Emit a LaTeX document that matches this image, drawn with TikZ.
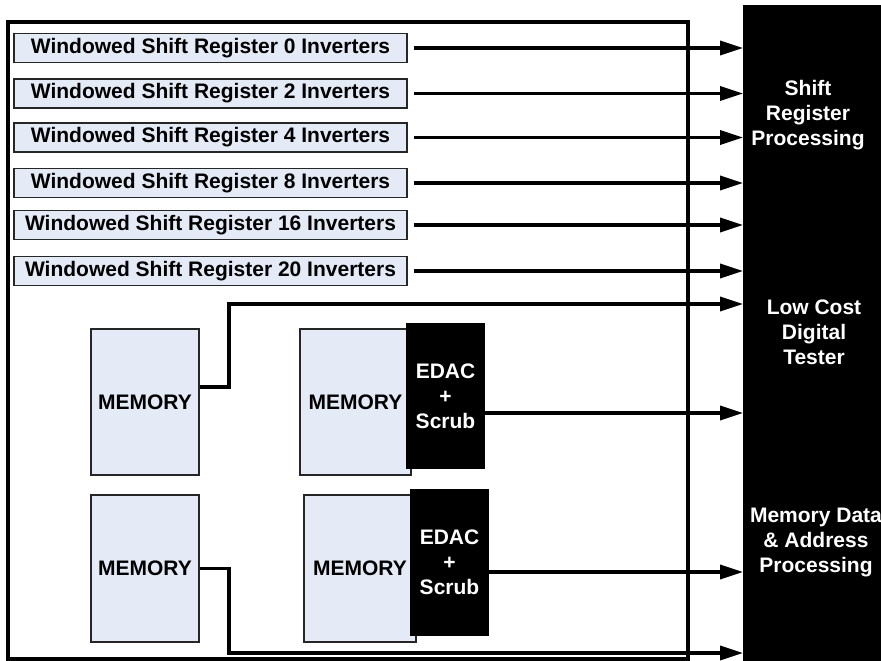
\documentclass[tikz,border=0pt]{standalone}
\usepackage{fontspec}
\setmainfont{Liberation Sans}
\usetikzlibrary{arrows.meta}
\definecolor{boxfill}{HTML}{E4EAF6}
\begin{document}
\begin{tikzpicture}[x=1pt,y=-1pt,
  every node/.style={font=\fontsize{21}{25}\selectfont\bfseries, inner sep=0pt},
  reg/.style={draw=black!85, line width=1.6pt, fill=boxfill, minimum width=393pt, minimum height=29pt},
  mem/.style={draw=black!85, line width=1.6pt, fill=boxfill, minimum height=146pt},
  edac/.style={fill=black, text=white, minimum width=79pt, minimum height=146pt, align=center},
  proclabel/.style={text=white, align=center},
  conn/.style={line width=3.5pt, -{Triangle[length=23pt,width=14pt]}},
  frame/.style={line width=3.5pt}]
\useasboundingbox (0,0) rectangle (881,661);

% black processing block
\node[fill=black, minimum width=138pt, minimum height=656pt, anchor=north west] (tester) at (743,5) {};
\node[proclabel] (tsr) at (808,115) {Shift\\Register\\Processing};
\node[proclabel] (tlc) at (814,332) {Low Cost\\Digital\\Tester};
\node[proclabel] (tmd) at (816,542.5) {Memory Data\\\& Address\\Processing};

% outer frame
\draw[frame] (8,22) rectangle (688,659);

% shift registers
\node[reg] (r0) at (210.5,48) {Windowed Shift Register 0 Inverters};
\node[reg] (r2) at (210.5,93.5) {Windowed Shift Register 2 Inverters};
\node[reg] (r4) at (210.5,137.5) {Windowed Shift Register 4 Inverters};
\node[reg] (r8) at (210.5,183) {Windowed Shift Register 8 Inverters};
\node[reg] (r16) at (210.5,225) {Windowed Shift Register 16 Inverters};
\node[reg] (r20) at (210.5,271) {Windowed Shift Register 20 Inverters};

\foreach \r in {r0,r2,r4,r8,r16,r20}
  \draw[conn, shorten <=6pt] (\r.east) -- (\r.east -| tester.west);

% memories
\node[mem, minimum width=108pt] (m1) at (145,402) {MEMORY};
\node[mem, minimum width=111pt] (m2) at (355.5,402) {MEMORY};
\node[mem, minimum width=108pt, minimum height=147pt] (m3) at (145,568.5) {MEMORY};
\node[mem, minimum width=112pt, minimum height=147pt] (m4) at (360,568.5) {MEMORY};
\node[edac] (e1) at (445.5,396) {EDAC\\+\\Scrub};
\node[edac, minimum height=147pt] (e2) at (449.5,562.5) {EDAC\\+\\Scrub};

% connectors
\coordinate (a1) at (229,304);
\coordinate (a3) at (229,653);
\draw[conn] ([yshift=15pt]m1.east) -| (a1) -- (a1 -| tester.west);
\draw[conn] ([yshift=-17pt]e1.east) -- ([yshift=-17pt]e1.east -| tester.west);
\draw[conn] ([yshift=-9.5pt]e2.east) -- ([yshift=-9.5pt]e2.east -| tester.west);
\draw[conn] (m3.east) -| (a3) -- (a3 -| tester.west);
\end{tikzpicture}
\end{document}
